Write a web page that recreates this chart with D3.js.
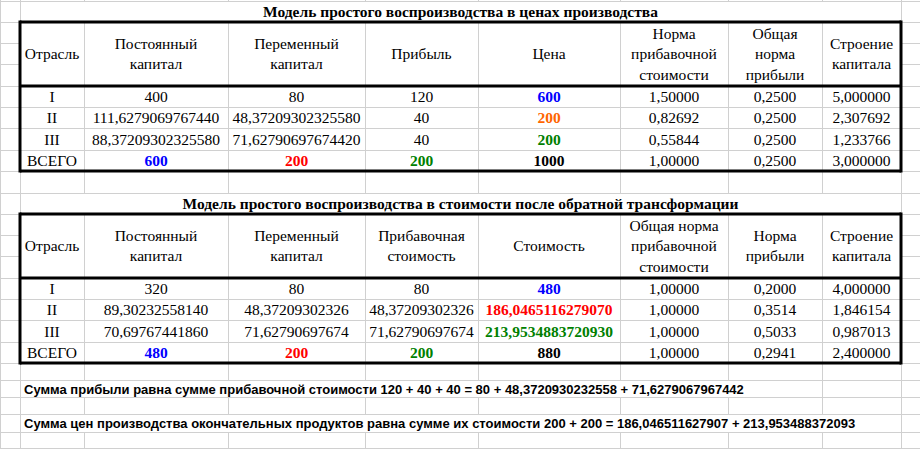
<!DOCTYPE html><html><head><meta charset="utf-8"><script src="https://cdn.jsdelivr.net/npm/d3@7"></script>
<style>body{margin:0;background:#fff}</style></head><body><svg id="c" width="920" height="449"></svg>
<script>
const colEdges=[20,84,228,365,478,620,728,822,901];
const rowEdges=[1,22,43,64,86,107,128,150,171,193,214,235,256,278,299,320,342,363,380,397,414,432,448];
const title1="Модель простого воспроизводства в ценах производства";
const title2="Модель простого воспроизводства в стоимости после обратной трансформации";
const headers1=[["Отрасль"],["Постоянный","капитал"],["Переменный","капитал"],["Прибыль"],["Цена"],["Норма","прибавочной","стоимости"],["Общая","норма","прибыли"],["Строение","капитала"]];
const headers2=[["Отрасль"],["Постоянный","капитал"],["Переменный","капитал"],["Прибавочная","стоимость"],["Стоимость"],["Общая норма","прибавочной","стоимости"],["Норма","прибыли"],["Строение","капитала"]];
const rows1=[["I","400","80","120","600","1,50000","0,2500","5,000000"],
["II","111,6279069767440","48,37209302325580","40","200","0,82692","0,2500","2,307692"],
["III","88,37209302325580","71,62790697674420","40","200","0,55844","0,2500","1,233766"],
["ВСЕГО","600","200","200","1000","1,00000","0,2500","3,000000"]];
const rows2=[["I","320","80","80","480","1,00000","0,2000","4,000000"],
["II","89,30232558140","48,37209302326","48,37209302326","186,0465116279070","1,00000","0,3514","1,846154"],
["III","70,69767441860","71,62790697674","71,62790697674","213,9534883720930","1,00000","0,5033","0,987013"],
["ВСЕГО","480","200","200","880","1,00000","0,2941","2,400000"]];
const styles1={"0,4":"#0000ff","1,4":"#ff6600","2,4":"#008000","3,1":"#0000ff","3,2":"#ff0000","3,3":"#008000","3,4":"#000"};
const styles2={"0,4":"#0000ff","1,4":"#ff0000","2,4":"#008000","3,1":"#0000ff","3,2":"#ff0000","3,3":"#008000","3,4":"#000"};
const note1="Сумма прибыли равна сумме прибавочной стоимости 120 + 40 + 40 = 80 + 48,3720930232558 + 71,6279067967442";
const note2="Сумма цен производства окончательных продуктов равна сумме их стоимости 200 + 200 = 186,046511627907 + 213,953488372093";

const svg=d3.select("#c");
const colX=i=>colEdges[i];
const rowY=i=>rowEdges[i];
const grid="#d0d0d0";
const allX=[0].concat(colEdges);
svg.selectAll(".gv").data(allX).join("line").attr("x1",d=>d+.5).attr("x2",d=>d+.5).attr("y1",0).attr("y2",449).attr("stroke",grid);
svg.selectAll(".gh").data(rowEdges).join("line").attr("x1",0).attr("x2",920).attr("y1",d=>d+.5).attr("y2",d=>d+.5).attr("stroke",grid);

function table(startRow,title,headers,rows,styles){
  const yT=rowY(startRow), yH=rowY(startRow+1), yD=rowY(startRow+4), yE=rowY(startRow+8);
  svg.append("rect").attr("x",21).attr("y",yT+1).attr("width",879).attr("height",yH-yT-1).attr("fill","#fff");
  svg.append("text").attr("x",(colX(0)+colX(8))/2).attr("y",(yT+yH)/2+5).attr("text-anchor","middle")
    .attr("font-family","Liberation Serif").attr("font-weight","bold").attr("font-size",15.5).text(title);
  headers.forEach((h,i)=>{
    svg.append("rect").attr("x",colX(i)+1).attr("y",yH+1).attr("width",colX(i+1)-colX(i)-1).attr("height",yD-yH-1).attr("fill","#fff");
    const cy=(yH+yD)/2, lh=20.5;
    h.forEach((t,k)=>svg.append("text").attr("x",(colX(i)+colX(i+1))/2).attr("y",cy+(k-(h.length-1)/2)*lh+5)
      .attr("text-anchor","middle").attr("font-family","Liberation Serif").attr("font-size",15.5).text(t));
  });
  rows.forEach((r,ri)=>{
    const y0=rowY(startRow+4+ri), y1=rowY(startRow+5+ri);
    r.forEach((t,ci)=>{
      const c=styles[ri+","+ci];
      svg.append("text").attr("x",(colX(ci)+colX(ci+1))/2).attr("y",(y0+y1)/2+5.5).attr("text-anchor","middle")
        .attr("font-family","Liberation Serif").attr("font-size",15.5).attr("font-weight",c?"bold":"normal")
        .attr("fill",c||"#000").text(t);
    });
  });
  const tk=(x1,y1,x2,y2)=>svg.append("line").attr("x1",x1).attr("y1",y1).attr("x2",x2).attr("y2",y2).attr("stroke","#000").attr("stroke-width",3);
  tk(colX(0),yH,colX(8),yH); tk(colX(0),yD,colX(8),yD); tk(colX(0),yE,colX(8),yE);
  tk(colX(0),yH-1.5,colX(0),yE+1.5); tk(colX(8),yH-1.5,colX(8),yE+1.5);
}
table(0,title1,headers1,rows1,styles1);
table(9,title2,headers2,rows2,styles2);
[[note1,18],[note2,20]].forEach(([t,r])=>{
  const y0=rowY(r),y1=rowY(r+1);
  const tx=svg.append("text").attr("x",24).attr("y",(y0+y1)/2+5).attr("font-family","Liberation Sans").attr("font-weight","bold").attr("font-size",13).text(t);
  const w=tx.node().getComputedTextLength();
  const right=colEdges.find(e=>e>24+w)||920;
  svg.insert("rect","text").attr("x",21).attr("y",y0+1).attr("width",right-21).attr("height",y1-y0-1).attr("fill","#fff");
});
</script></body></html>
